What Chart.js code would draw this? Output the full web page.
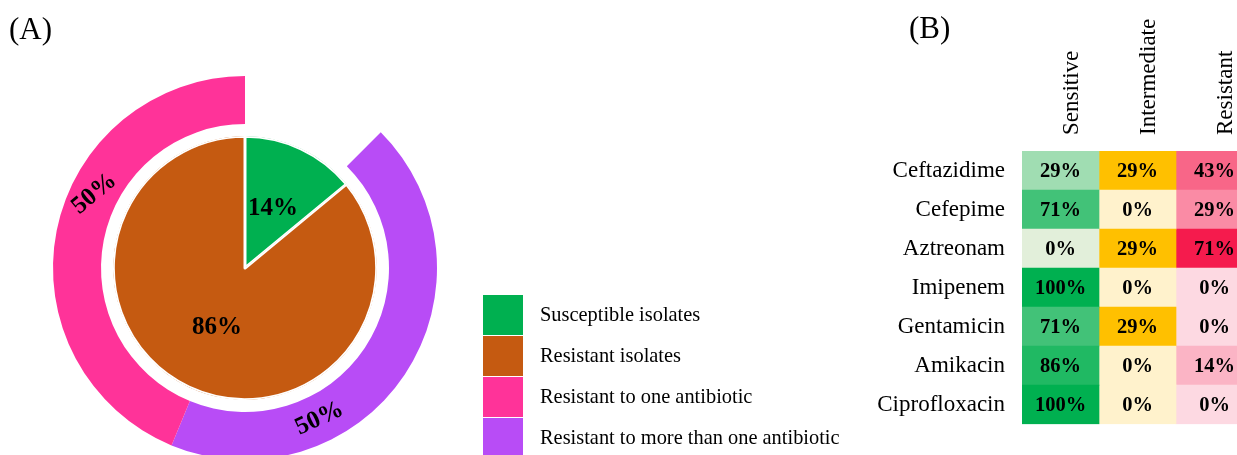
<!DOCTYPE html>
<html>
<head>
<meta charset="utf-8">
<script src="https://cdn.jsdelivr.net/npm/chart.js@4"></script>
<style>
  html, body { margin: 0; padding: 0; background: #fff; overflow: hidden; }
  #wrap { position: relative; width: 1237px; height: 455px; overflow: hidden; }
  #pieBox { position: absolute; left: 0; top: 0; width: 860px; height: 470px; }
  #heatBox { position: absolute; left: 860px; top: 0; width: 393px; height: 455px; }
</style>
</head>
<body>
<div id="wrap">
  <div id="pieBox"><canvas id="pie"></canvas></div>
  <div id="heatBox"><canvas id="heat"></canvas></div>
</div>
<script>
// (A) isolates, and the resistant ones split by how many antibiotics they resist
const isolateLabels = ['Susceptible isolates', 'Resistant isolates'];
const isolateShare = [14, 86];
const resistLabels = ['Resistant to one antibiotic', 'Resistant to more than one antibiotic'];
const resistShare = [50, 50];

// (B) susceptibility per antibiotic, in percent
const antibiotics = ['Ceftazidime', 'Cefepime', 'Aztreonam', 'Imipenem', 'Gentamicin', 'Amikacin', 'Ciprofloxacin'];
const outcomes = ['Sensitive', 'Intermediate', 'Resistant'];
const sensitivePct = [29, 71, 0, 100, 71, 86, 100];
const intermediatePct = [29, 0, 29, 0, 29, 0, 0];
const resistantPct = [43, 29, 71, 0, 0, 14, 0];

const serif = '"Liberation Serif", "Times New Roman", Times, serif';
const isolateColors = ['#00b050', '#c55a11'];
const resistColors = ['#ff3399', '#b84cf6'];
// low / high colour of each column's scale
const ramps = [['#e2efda', '#00b050'], ['#fff2cc', '#ffc000'], ['#fdd9e2', '#f51b4d']];

function hex(c) {
  return [1, 3, 5].map(i => parseInt(c.slice(i, i + 2), 16));
}
function shade(vals, ramp) {
  const lo = hex(ramp[0]), hi = hex(ramp[1]);
  const min = Math.min(...vals), max = Math.max(...vals);
  return vals.map(v => {
    const t = max === min ? 0 : (v - min) / (max - min);
    const c = lo.map((l, i) => Math.round(l + (hi[i] - l) * t));
    return `rgb(${c[0]},${c[1]},${c[2]})`;
  });
}

// "(A)" / "(B)" panel tags
const panelTitle = {
  id: 'panelTitle',
  afterDraw(chart, args, opts) {
    const {ctx} = chart;
    ctx.save();
    ctx.font = `31px ${serif}`;
    ctx.fillStyle = '#000';
    ctx.textAlign = 'left';
    ctx.textBaseline = 'middle';
    ctx.fillText(opts.text, opts.x, opts.y);
    ctx.restore();
  }
};

// percent labels on the arcs
const sliceText = {
  id: 'sliceText',
  afterDatasetsDraw(chart) {
    const {ctx} = chart;
    ctx.save();
    ctx.fillStyle = '#000';
    ctx.textAlign = 'center';
    ctx.textBaseline = 'middle';
    chart.data.datasets.forEach((ds, i) => {
      if (!ds.labelAt) return;
      ctx.font = `bold ${ds.labelSize}px ${serif}`;
      chart.getDatasetMeta(i).data.forEach((arc, j) => {
        const p = arc.getProps(['x', 'y', 'startAngle', 'endAngle', 'innerRadius', 'outerRadius'], true);
        const a = p.startAngle + ds.labelAt[j] * (p.endAngle - p.startAngle);
        const r = (p.innerRadius + p.outerRadius) / 2;
        ctx.save();
        ctx.translate(p.x + r * Math.cos(a), p.y + r * Math.sin(a));
        ctx.rotate((ds.labelTilt ? ds.labelTilt[j] : 0) * Math.PI / 180);
        ctx.fillText(ds.data[j] + '%', 0, 0);
        ctx.restore();
      });
    });
    ctx.restore();
  }
};

// square swatches next to the pie
const boxLegend = {
  id: 'boxLegend',
  afterDraw(chart, args, opts) {
    const {ctx} = chart;
    const items = isolateLabels.map((t, i) => [t, isolateColors[i]])
      .concat(resistLabels.map((t, i) => [t, resistColors[i]]));
    ctx.save();
    ctx.font = `20.4px ${serif}`;
    ctx.textAlign = 'left';
    ctx.textBaseline = 'middle';
    items.forEach(([text, color], i) => {
      const y = opts.top + i * opts.step;
      ctx.fillStyle = color;
      ctx.fillRect(opts.left, y, opts.box, opts.box);
      ctx.fillStyle = '#000';
      ctx.fillText(text, opts.left + opts.box + 17, y + opts.box / 2 + 1);
    });
    ctx.restore();
  }
};

new Chart(document.getElementById('pie'), {
  type: 'doughnut',
  data: {
    datasets: [
      {
        // outer ring: split of the resistant isolates
        data: [resistShare[1], resistShare[0]],
        backgroundColor: [resistColors[1], resistColors[0]],
        borderWidth: 0,
        rotation: 45,
        circumference: 315,
        weight: 48,
        labelAt: [0.69, 0.595],
        labelTilt: [-25, -40],
        labelSize: 25
      },
      {
        // white gap between ring and pie
        data: [1],
        backgroundColor: 'rgba(0,0,0,0)',
        borderWidth: 0,
        weight: 12
      },
      {
        data: isolateShare,
        backgroundColor: isolateColors,
        borderColor: '#fff',
        borderWidth: 1.5,
        borderAlign: 'inner',
        weight: 132,
        labelAt: [0.5, 0.5],
        labelSize: 25
      }
    ]
  },
  options: {
    animation: false,
    responsive: true,
    maintainAspectRatio: false,
    cutout: 0,
    hoverOffset: 0,
    layout: { padding: { left: 53, top: 76, right: 423, bottom: 10 } },
    plugins: {
      legend: { display: false },
      tooltip: { enabled: false },
      panelTitle: { text: '(A)', x: 9, y: 31 },
      boxLegend: { left: 483, top: 295, box: 40, step: 41 }
    }
  },
  plugins: [sliceText, boxLegend, panelTitle]
});

// percent text in each heat cell
const cellText = {
  id: 'cellText',
  afterDatasetsDraw(chart) {
    const {ctx} = chart;
    ctx.save();
    ctx.font = `bold 20.5px ${serif}`;
    ctx.fillStyle = '#000';
    ctx.textAlign = 'center';
    ctx.textBaseline = 'middle';
    chart.data.datasets.forEach((ds, i) => {
      chart.getDatasetMeta(i).data.forEach((bar, j) => {
        ctx.fillText(ds.pct[j] + '%', (bar.x + bar.base) / 2, bar.y + 1);
      });
    });
    ctx.restore();
  }
};

const pctByOutcome = [sensitivePct, intermediatePct, resistantPct];

new Chart(document.getElementById('heat'), {
  type: 'bar',
  data: {
    labels: antibiotics,
    datasets: outcomes.map((name, k) => ({
      label: name,
      data: antibiotics.map(() => 1),
      pct: pctByOutcome[k],
      backgroundColor: shade(pctByOutcome[k], ramps[k]),
      borderWidth: 0,
      barPercentage: 1,
      categoryPercentage: 1
    }))
  },
  options: {
    indexAxis: 'y',
    animation: false,
    responsive: true,
    maintainAspectRatio: false,
    layout: { padding: { left: 0, top: 0, right: 0, bottom: 13 } },
    scales: {
      x: {
        type: 'linear',
        position: 'top',
        stacked: true,
        min: 0,
        max: 3,
        grid: { display: false, drawTicks: false },
        border: { display: false },
        afterBuildTicks: s => { s.ticks = outcomes.map((_, k) => ({ value: k + 0.5 })); },
        afterFit: s => { s.height = 151; },
        ticks: {
          autoSkip: false,
          minRotation: 90,
          maxRotation: 90,
          padding: 16,
          labelOffset: 39,
          color: '#000',
          font: { family: serif, size: 23 },
          callback: (v, i) => outcomes[i]
        }
      },
      y: {
        stacked: true,
        grid: { display: false, drawTicks: false },
        border: { display: false },
        afterFit: s => { s.width = 162; },
        ticks: { padding: 17, color: '#000', font: { family: serif, size: 23 } }
      }
    },
    plugins: {
      legend: { display: false },
      tooltip: { enabled: false },
      panelTitle: { text: '(B)', x: 49, y: 30 }
    }
  },
  plugins: [cellText, panelTitle]
});
</script>
</body>
</html>
